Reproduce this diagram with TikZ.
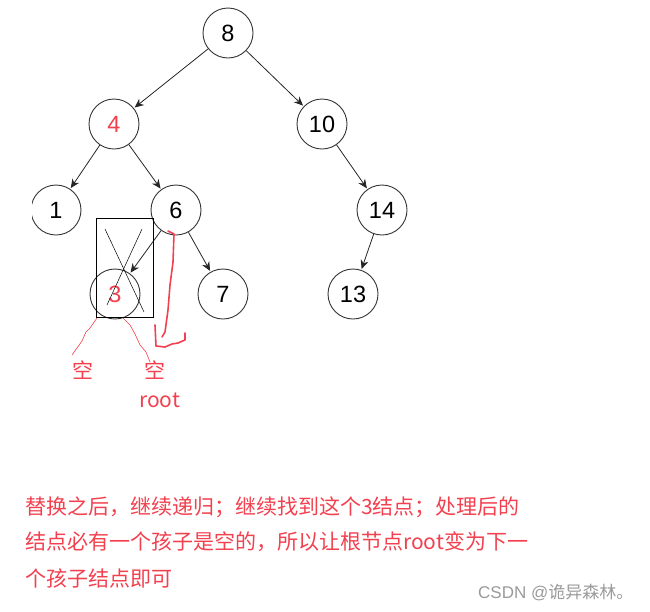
\documentclass[tikz,border=0pt]{standalone}
\usepackage{fontspec}
\setmainfont{Liberation Sans}
\newfontfamily\cjk{Noto Sans CJK SC}
\usetikzlibrary{arrows.meta}
\definecolor{redink}{HTML}{F2404F}
\definecolor{wmgray}{HTML}{9A9A9A}
\tikzset{
  tnode/.style={circle,draw=black!80,line width=0.9pt,minimum size=50pt,inner sep=0pt,font=\fontsize{23.5}{23.5}\selectfont},
  edge/.style={-{Stealth[length=9pt,width=8pt]},line width=0.8pt,black!85,shorten >=1pt},
  redtxt/.style={text=redink,font=\cjk\fontsize{21}{24}\selectfont,inner sep=0pt,anchor=west},
}
\begin{document}
\begin{tikzpicture}[x=1pt,y=-1pt]
\useasboundingbox (0,0) rectangle (650,611);
\node[tnode] (n8) at (228,33) {8};
\node[tnode,text=redink] (n4) at (114,124) {4};
\node[tnode] (n10) at (322,124) {10};
\begin{scope}
\clip (32,150) rectangle (100,260);
\node[tnode] (n1) at (56,210) {1};
\end{scope}
\node[tnode] (n6) at (176,210) {6};
\node[tnode] (n14) at (382,210) {14};
\node[tnode,text=redink] (n3) at (115,294) {3};
\node[tnode] (n7) at (223,294) {7};
\node[tnode] (n13) at (353,294) {13};
\draw[edge] (n8) -- (n4);
\draw[edge] (n8) -- (n10);
\draw[edge] (n4) -- (n1);
\draw[edge] (n4) -- (n6);
\draw[edge] (n10) -- (n14);
\draw[edge] (n14) -- (n13);
\draw[edge] (n6) -- (n3);
\draw[edge] (n6) -- (n7);
% crossed-out box
\node[draw=black,line width=0.8pt,minimum width=57pt,minimum height=99pt,inner sep=0pt] (box) at (124.5,267.5) {};
\draw[line width=0.5pt] (105,229) -- (144,312);
\draw[line width=0.5pt] (142,229) -- (107,305);
% red annotations
\draw[redink,line width=1.6pt,line join=round,line cap=round] (168,231) -- (174,234) -- (173,262) -- (170,285) -- (168,310) -- (165,332) -- (162,337);
\draw[redink,line width=1.6pt,line join=round,line cap=round] (155,325) -- (156,346) -- (165,347) -- (172,344) -- (178,343) -- (185,340) -- (185,333);
\draw[redink,line width=0.6pt] (97,318) -- (90,328) -- (86,332) -- (82,341) -- (77,348) -- (72,355);
\draw[redink,line width=0.6pt] (123,318) -- (130,325) -- (135,334) -- (140,345) -- (146,352) -- (150,362);
\node[redtxt] (e1) at (72,370) {空};
\node[redtxt] (e2) at (144,370) {空};
\node[redtxt] (rt) at (139,400) {root};
\node[redtxt] (l1) at (25,507) {替换之后，继续递归；继续找到这个3结点；处理后的};
\node[redtxt] (l2) at (25,542) {结点必有一个孩子是空的，所以让根节点root变为下一};
\node[redtxt] (l3) at (25,578) {个孩子结点即可};
\node[text=wmgray,font=\fontsize{17}{19}\selectfont,inner sep=0pt,anchor=west] (wm) at (478,593) {CSDN @{\cjk 诡异森林。}};
\end{tikzpicture}
\end{document}
